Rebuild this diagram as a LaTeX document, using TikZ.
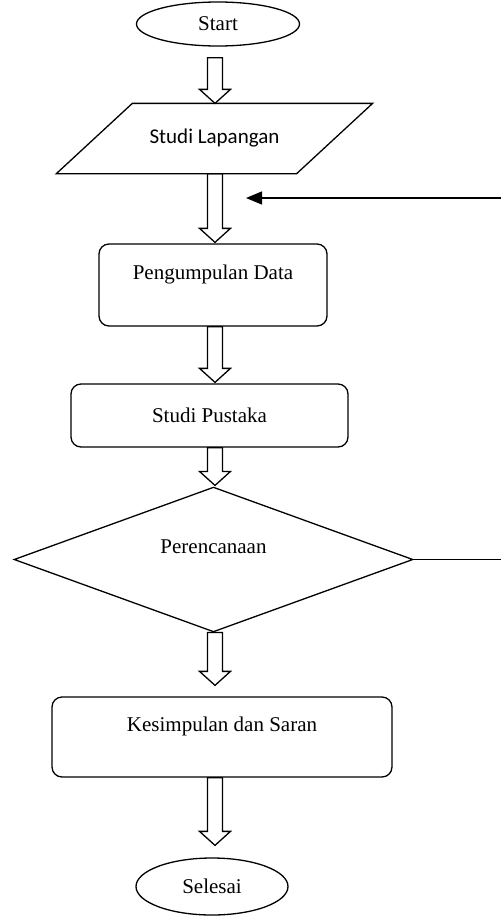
\documentclass[tikz,border=0pt]{standalone}
\usepackage{fontspec}
\setmainfont{Liberation Serif}
\newfontfamily\calibri{Carlito}
\usepackage{tikz}
\usetikzlibrary{shapes.geometric, arrows.meta, calc}

% hollow block arrow between two nodes, gaps in pt
\newcommand{\blockarrow}[4]{%
  \draw[blockline] let \p1=(#1.south), \p2=(#2.north), \p3=(axis) in
    (\x3-7.5pt,\y1-#3pt) -- (\x3-7.5pt,\y2+#4pt+14pt) -- (\x3-15.5pt,\y2+#4pt+14pt)
    -- (\x3,\y2+#4pt) -- (\x3+15.5pt,\y2+#4pt+14pt) -- (\x3+7.5pt,\y2+#4pt+14pt)
    -- (\x3+7.5pt,\y1-#3pt) -- cycle;}

\begin{document}
\begin{tikzpicture}[x=1pt, y=-1pt, line width=1.3pt,
    font=\fontsize{21}{25}\selectfont,
    terminal/.style={draw, ellipse, inner sep=0pt},
    process/.style={draw, rounded corners=10pt, align=center, inner sep=0pt},
    blockline/.style={line width=1.3pt}]
  \useasboundingbox (0,0) rectangle (501,916);
  \coordinate (axis) at (215,0);

  \node[terminal, minimum width=163pt, minimum height=44pt] (start) at (218,24) {Start};
  \node[minimum width=239pt, minimum height=69pt, inner sep=0pt,
        font=\calibri\fontsize{21}{25}\selectfont] (lapangan) at (214.5,138.5) {Studi Lapangan\hspace{24pt}};
  \draw ($(lapangan.north west)+(38,0)$) -- ($(lapangan.north east)+(38,0)$)
     -- ($(lapangan.south east)+(-38,0)$) -- ($(lapangan.south west)+(-38,0)$) -- cycle;
  \node[process, minimum width=228pt, minimum height=82pt] (pengumpulan) at (213,285) {Pengumpulan Data\\~};
  \node[process, minimum width=277pt, minimum height=63pt] (pustaka) at (209.5,415.5) {Studi Pustaka};
  \node[draw, diamond, minimum width=399pt, minimum height=127pt, inner sep=0pt,
        align=center] (perencanaan) at (213.5,559.5) {Perencanaan\\~};
  \node[process, minimum width=340pt, minimum height=80pt] (kesimpulan) at (222,737) {Kesimpulan dan Saran\\~};
  \node[terminal, minimum width=152pt, minimum height=57pt] (selesai) at (212,886.5) {Selesai};

  \foreach \a/\b/\g/\h in {start/lapangan/11/0, lapangan/pengumpulan/0/1,
      pengumpulan/pustaka/0/1, pustaka/perencanaan/0/1,
      perencanaan/kesimpulan/0/11, kesimpulan/selesai/0/12}
    {\blockarrow{\a}{\b}{\g}{\h}}

  % loop back from the right edge
  \coordinate (loopin) at (501,198);
  \coordinate (looptip) at (246,198);
  \draw[-{Triangle[length=16pt,width=13pt]}] (loopin) -- (looptip);
  \draw (perencanaan.east) -- (perencanaan.east -| loopin);
\end{tikzpicture}
\end{document}
